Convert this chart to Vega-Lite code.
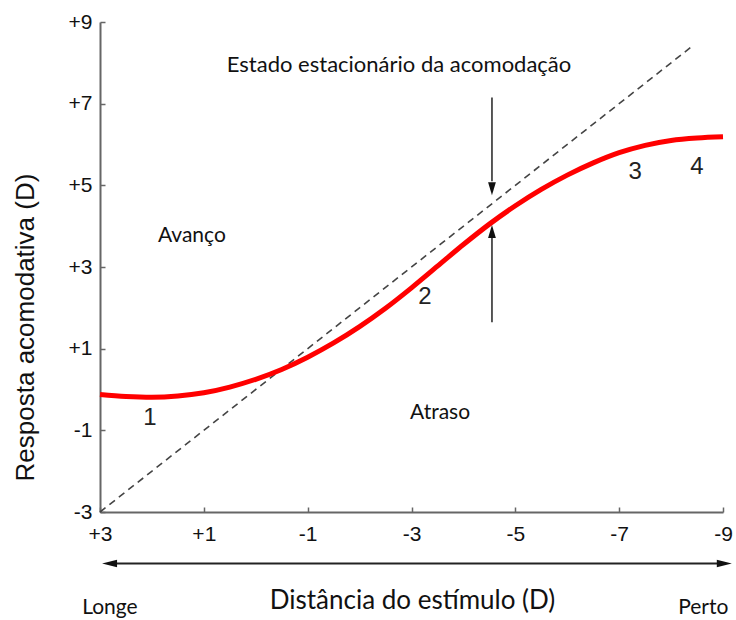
{
  "$schema": "https://vega.github.io/schema/vega-lite/v6.json",
  "width": 623,
  "height": 490,
  "autosize": "none",
  "padding": {"left": 100, "top": 22, "right": 13, "bottom": 108},
  "background": "white",
  "config": {
    "view": {"stroke": null},
    "axis": {"grid": false, "labelFont": "Liberation Sans", "labelFontSize": 21, "labelColor": "#111111", "labelFlush": false}
  },
  "datasets": {
    "curve": [
      {"x": 3, "y": -0.12}, {"x": 2.5, "y": -0.17}, {"x": 2, "y": -0.19}, {"x": 1.5, "y": -0.16},
      {"x": 1, "y": -0.08}, {"x": 0.5, "y": 0.06}, {"x": 0, "y": 0.25}, {"x": -0.5, "y": 0.49},
      {"x": -1, "y": 0.79}, {"x": -1.5, "y": 1.14}, {"x": -2, "y": 1.54}, {"x": -2.5, "y": 1.99},
      {"x": -3, "y": 2.49}, {"x": -3.5, "y": 3.02}, {"x": -4, "y": 3.55}, {"x": -4.5, "y": 4.05},
      {"x": -5, "y": 4.5}, {"x": -5.5, "y": 4.9}, {"x": -6, "y": 5.25}, {"x": -6.5, "y": 5.55},
      {"x": -7, "y": 5.8}, {"x": -7.5, "y": 5.98}, {"x": -8, "y": 6.1}, {"x": -8.5, "y": 6.16},
      {"x": -9, "y": 6.19}
    ],
    "diag": [{"x": 3, "y": -3}, {"x": -8.4, "y": 8.4}],
    "vshafts": [{"x": -4.55, "y": 7.15, "y2": 5.1}, {"x": -4.55, "y": 1.65, "y2": 3.75}],
    "hshaft": [{"x": 2.8, "x2": -9.0, "y": -4.26}],
    "headsDown": [{"x": -4.55, "y": 4.76}],
    "headsUp": [{"x": -4.55, "y": 4.03}],
    "headsLeft": [{"x": 2.96, "y": -4.26}],
    "headsRight": [{"x": -9.17, "y": -4.26}],
    "labelsLato": [
      {"x": -2.76, "y": 7.95, "t": "Estado estacionário da acomodação", "s": 22},
      {"x": 1.23, "y": 3.75, "t": "Avanço", "s": 21},
      {"x": -3.55, "y": -0.58, "t": "Atraso", "s": 21},
      {"x": 2.81, "y": -5.36, "t": "Longe", "s": 21},
      {"x": -8.62, "y": -5.36, "t": "Perto", "s": 21}
    ],
    "nums": [
      {"x": 2.04, "y": -0.7, "t": "1"},
      {"x": -3.26, "y": 2.26, "t": "2"},
      {"x": -7.31, "y": 5.32, "t": "3"},
      {"x": -8.5, "y": 5.45, "t": "4"}
    ]
  },
  "layer": [
    {
      "data": {"name": "diag"},
      "mark": {"type": "line", "color": "#444444", "strokeWidth": 1.6, "strokeDash": [7, 5]},
      "encoding": {
        "x": {
          "field": "x", "type": "quantitative",
          "scale": {"domain": [3, -9], "nice": false, "zero": false},
          "axis": {
            "values": [3, 1, -1, -3, -5, -7, -9],
            "labelExpr": "(datum.value > 0 ? '+' : (datum.value < 0 ? '-' : '')) + abs(datum.value)",
            "labelFlush": false, "labelPadding": 16, "labelFontSize": 21,
            "domainColor": "#666666", "domainWidth": 2,
            "tickColor": "#666666", "tickWidth": 1.5, "tickSize": -5,
            "title": "Distância do estímulo (D)",
            "titleFont": "Lato", "titleFontSize": 26, "titleFontWeight": "normal", "titleColor": "#111111",
            "titleX": 312, "titleY": 88, "titleBaseline": "middle", "titleAlign": "center"
          }
        },
        "y": {
          "field": "y", "type": "quantitative",
          "scale": {"domain": [-3, 9], "nice": false, "zero": false},
          "axis": {
            "values": [-3, -1, 1, 3, 5, 7, 9],
            "labelExpr": "(datum.value > 0 ? '+' : (datum.value < 0 ? '-' : '')) + abs(datum.value)",
            "labelFlush": false, "labelPadding": 13, "labelFontSize": 21,
            "domainColor": "#666666", "domainWidth": 2,
            "tickColor": "#666666", "tickWidth": 1.5, "tickSize": -5,
            "title": "Resposta acomodativa (D)",
            "titleFont": "Liberation Sans", "titleFontSize": 26, "titleFontWeight": "normal", "titleColor": "#111111",
            "titleAngle": -90, "titleX": -75, "titleY": 305, "titleBaseline": "middle", "titleAlign": "center"
          }
        }
      }
    },
    {
      "data": {"name": "curve"},
      "mark": {"type": "line", "color": "#ff0000", "strokeWidth": 5, "interpolate": "monotone"},
      "encoding": {
        "x": {"field": "x", "type": "quantitative"},
        "y": {"field": "y", "type": "quantitative"}
      }
    },
    {
      "data": {"name": "vshafts"},
      "mark": {"type": "rule", "color": "#222222", "strokeWidth": 1.5},
      "encoding": {
        "x": {"field": "x", "type": "quantitative"},
        "y": {"field": "y", "type": "quantitative"},
        "y2": {"field": "y2"}
      }
    },
    {
      "data": {"name": "hshaft"},
      "mark": {"type": "rule", "color": "#222222", "strokeWidth": 2},
      "encoding": {
        "x": {"field": "x", "type": "quantitative"},
        "x2": {"field": "x2"},
        "y": {"field": "y", "type": "quantitative"}
      }
    },
    {
      "data": {"name": "headsDown"},
      "mark": {"type": "point", "shape": "M-0.6,-2L0.6,-2L0,0Z", "filled": true, "color": "#111111", "opacity": 1, "size": 169},
      "encoding": {
        "x": {"field": "x", "type": "quantitative"},
        "y": {"field": "y", "type": "quantitative"}
      }
    },
    {
      "data": {"name": "headsUp"},
      "mark": {"type": "point", "shape": "M-0.6,2L0.6,2L0,0Z", "filled": true, "color": "#111111", "opacity": 1, "size": 169},
      "encoding": {
        "x": {"field": "x", "type": "quantitative"},
        "y": {"field": "y", "type": "quantitative"}
      }
    },
    {
      "data": {"name": "headsLeft"},
      "mark": {"type": "point", "shape": "M0,0L2,-0.5L2,0.5Z", "filled": true, "color": "#111111", "opacity": 1, "size": 225},
      "encoding": {
        "x": {"field": "x", "type": "quantitative"},
        "y": {"field": "y", "type": "quantitative"}
      }
    },
    {
      "data": {"name": "headsRight"},
      "mark": {"type": "point", "shape": "M0,0L-2,-0.5L-2,0.5Z", "filled": true, "color": "#111111", "opacity": 1, "size": 225},
      "encoding": {
        "x": {"field": "x", "type": "quantitative"},
        "y": {"field": "y", "type": "quantitative"}
      }
    },
    {
      "data": {"name": "labelsLato"},
      "mark": {"type": "text", "font": "Lato", "color": "#111111", "align": "center", "baseline": "middle"},
      "encoding": {
        "x": {"field": "x", "type": "quantitative"},
        "y": {"field": "y", "type": "quantitative"},
        "text": {"field": "t"},
        "size": {"field": "s", "type": "quantitative", "scale": null}
      }
    },
    {
      "data": {"name": "nums"},
      "mark": {"type": "text", "font": "Liberation Sans", "fontSize": 24, "color": "#222222", "align": "center", "baseline": "middle"},
      "encoding": {
        "x": {"field": "x", "type": "quantitative"},
        "y": {"field": "y", "type": "quantitative"},
        "text": {"field": "t"}
      }
    }
  ]
}
